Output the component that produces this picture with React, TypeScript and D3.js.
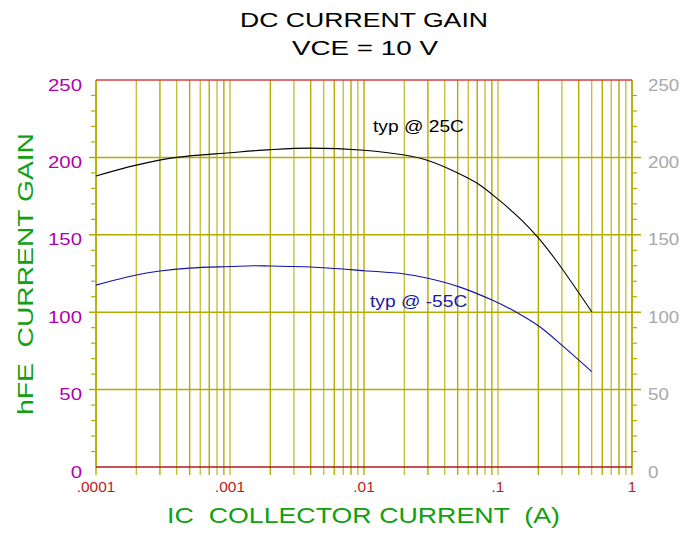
import React from 'react';
import * as d3 from 'd3';

// collector current (A) and hFE readings
const ic25 = [0.0001, 0.0002, 0.0004, 0.001, 0.002, 0.004, 0.01, 0.02, 0.03, 0.05, 0.07, 0.1, 0.15, 0.2, 0.27, 0.5];
const hfe25 = [188, 195, 200, 203, 205, 206, 204.6, 201.5, 198, 190, 183.3, 173, 159.5, 148, 133.7, 100.3];

const icM55 = [0.0001, 0.0002, 0.0003, 0.0005, 0.001, 0.0015, 0.002, 0.004, 0.01, 0.02, 0.03, 0.052, 0.092, 0.137, 0.205, 0.304, 0.5];
const hfeM55 = [117.5, 124, 126.6, 128.5, 129.5, 130, 129.8, 129.2, 126.8, 124.7, 121.9, 116.2, 107.5, 100, 90.6, 78.2, 61.6];

const yMajor = [0, 50, 100, 150, 200, 250];
const xLabels = ['.0001', '.001', '.01', '.1', '1'];

const W = 681;
const H = 533;
const left = 96, right = 632, top = 80, bottom = 467;

const olive = '#b4ab00';
const font = 'Liberation Sans, Arial, sans-serif';

export default function App() {
  const x = d3.scaleLog().domain([0.0001, 1]).range([left, right]);
  const y = d3.scaleLinear().domain([0, 250]).range([bottom, top]);

  const xGrid: number[] = [];
  for (let d = -4; d < 0; d++) {
    for (let m = 1; m <= 9; m++) xGrid.push(m * Math.pow(10, d));
  }
  xGrid.push(1);
  const yMinor = d3.range(0, 251, 10).filter(v => v % 50 !== 0);

  const line = d3.line<[number, number]>()
    .x(d => x(d[0]))
    .y(d => y(d[1]))
    .curve(d3.curveCatmullRom.alpha(0.5));

  const p25 = line(ic25.map((v, i) => [v, hfe25[i]] as [number, number])) || '';
  const pM55 = line(icM55.map((v, i) => [v, hfeM55[i]] as [number, number])) || '';

  // the original's lettering is drawn wider than the font, so stretch it a bit
  const sx = 1.2;

  return (
    <svg width={W} height={H} style={{ position: 'absolute', left: 0, top: 0, background: '#fff' }} fontFamily={font}>
      {/* titles */}
      <text x={364} y={27} textAnchor="middle" fontSize={21} fill="#000" textLength={248} lengthAdjust="spacingAndGlyphs">DC CURRENT GAIN</text>
      <text x={365} y={55} textAnchor="middle" fontSize={21} fill="#000" textLength={146} lengthAdjust="spacingAndGlyphs">VCE = 10 V</text>

      {/* vertical grid */}
      {xGrid.map((v, i) => (
        <line key={'xg' + i} x1={x(v)} x2={x(v)} y1={top} y2={bottom + 8}
          stroke={olive} strokeWidth={1.4} opacity={i % 2 ? 0.75 : 1} />
      ))}

      {/* horizontal grid */}
      {yMajor.filter(v => v > 0 && v < 250).map(v => (
        <line key={'yg' + v} x1={left - 7} x2={right + 9} y1={y(v)} y2={y(v)} stroke={olive} strokeWidth={1.5} />
      ))}
      {yMinor.map(v => (
        <g key={'ym' + v}>
          <line x1={left - 5} x2={left} y1={y(v)} y2={y(v)} stroke={olive} strokeWidth={1.2} />
          <line x1={right} x2={right + 5} y1={y(v)} y2={y(v)} stroke={olive} strokeWidth={1.2} />
        </g>
      ))}

      {/* frame */}
      <line x1={left} x2={left} y1={top} y2={bottom} stroke={olive} strokeWidth={1.5} />
      <line x1={right} x2={right} y1={top} y2={bottom} stroke={olive} strokeWidth={1.5} />
      <line x1={left} x2={right} y1={top} y2={top} stroke="#d84040" strokeWidth={1.5} />
      <line x1={left} x2={right} y1={bottom} y2={bottom} stroke="#b01818" strokeWidth={1.5} />

      {/* curves */}
      <path d={p25} fill="none" stroke="#000" strokeWidth={1.1} />
      <path d={pM55} fill="none" stroke="#1010b0" strokeWidth={1.1} />

      <text transform={`translate(373,132) scale(${sx},1)`} fontSize={16} fill="#000">typ @ 25C</text>
      <text transform={`translate(370,307) scale(${sx},1)`} fontSize={16} fill="#1a1aa8">typ @ -55C</text>

      {/* y tick labels */}
      {yMajor.map(v => (
        <g key={'yl' + v}>
          <text transform={`translate(82,${y(v) + 10.5}) scale(${sx},1)`} textAnchor="end" fontSize={17} fill="#b000b0">{v}</text>
          <text transform={`translate(648,${y(v) + 10.5}) scale(1.1,1)`} textAnchor="start" fontSize={17} fill="#a8a8a8">{v}</text>
        </g>
      ))}

      {/* x tick labels */}
      {xLabels.map((t, i) => (
        <text key={'xl' + i} transform={`translate(${x(Math.pow(10, i - 4))},492) scale(1.1,1)`} textAnchor="middle" fontSize={14} fill="#c01818">{t}</text>
      ))}

      {/* axis titles */}
      <text x={363.5} y={523} textAnchor="middle" fontSize={22} fill="#10a010" textLength={393} lengthAdjust="spacingAndGlyphs" style={{ whiteSpace: 'pre' }}>{'IC  COLLECTOR CURRENT  (A)'}</text>
      <text transform="translate(33,274) rotate(-90)" x={0} y={0} textAnchor="middle" fontSize={22} fill="#10a010" textLength={282} lengthAdjust="spacingAndGlyphs" style={{ whiteSpace: 'pre' }}>{'hFE  CURRENT GAIN'}</text>
    </svg>
  );
}
